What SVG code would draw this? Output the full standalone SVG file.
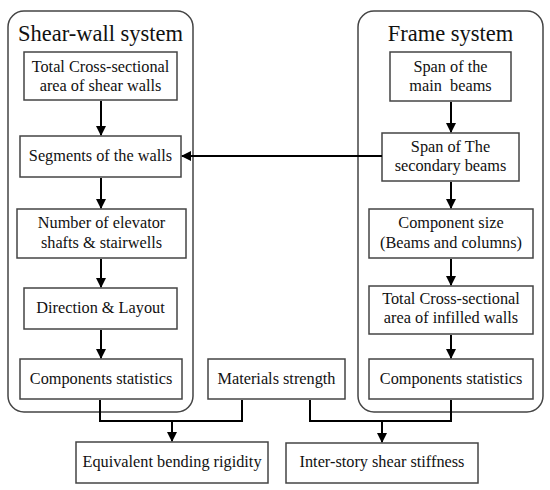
<svg xmlns="http://www.w3.org/2000/svg" width="550" height="490" viewBox="0 0 550 490">
<style>
.bg{fill:#fff}
.cont{fill:none;stroke:#444;stroke-width:1.5}
.box{fill:#fff;stroke:#444;stroke-width:1.5}
.t{font-family:'Liberation Serif','Times New Roman',serif;font-size:16.3px;fill:#111;text-anchor:middle}
.title{font-family:'Liberation Serif','Times New Roman',serif;font-size:22.5px;fill:#111;text-anchor:middle}
.c{fill:none;stroke:#000;stroke-width:2}
</style>
<defs>
<marker id="ah" markerWidth="10" markerHeight="10" refX="9" refY="5" orient="auto" markerUnits="userSpaceOnUse">
<path d="M0,0 L10,5 L0,10 Z" fill="#000"/>
</marker>
</defs>
<rect class="bg" x="0" y="0" width="550" height="490"/>
<g id="shear-wall-system">
<rect class="cont" x="8" y="11" width="185" height="401" rx="16"/>
<text class="title" x="100.5" y="41">Shear-wall system</text>
</g>
<g id="frame-system">
<rect class="cont" x="358" y="11" width="185" height="401" rx="16"/>
<text class="title" x="450.5" y="41">Frame system</text>
</g>
<g id="sw1"><rect class="box" x="24" y="52" width="153" height="48"/><text class="t" x="100.5" y="72">Total Cross-sectional</text><text class="t" x="100.5" y="91">area of shear walls</text></g>
<g id="sw2"><rect class="box" x="20" y="136" width="161" height="41"/><text class="t" x="100.5" y="161">Segments of the walls</text></g>
<g id="sw3"><rect class="box" x="17" y="209" width="169" height="49"/><text class="t" x="101.5" y="228">Number of elevator</text><text class="t" x="101.5" y="248">shafts &amp; stairwells</text></g>
<g id="sw4"><rect class="box" x="24" y="288" width="153" height="41"/><text class="t" x="100.5" y="313">Direction &amp; Layout</text></g>
<g id="sw5"><rect class="box" x="20" y="359" width="162" height="40"/><text class="t" x="101" y="384">Components statistics</text></g>
<g id="fr1"><rect class="box" x="390" y="52" width="121" height="49"/><text class="t" x="450.5" y="72">Span of the</text><text class="t" x="450.5" y="91" xml:space="preserve">main  beams</text></g>
<g id="fr2"><rect class="box" x="382" y="133" width="137" height="48"/><text class="t" x="450.5" y="152">Span of The</text><text class="t" x="450.5" y="171">secondary beams</text></g>
<g id="fr3"><rect class="box" x="369" y="209" width="164" height="49"/><text class="t" x="451" y="228">Component size</text><text class="t" x="451" y="248">(Beams and columns)</text></g>
<g id="fr4"><rect class="box" x="369" y="286" width="164" height="48"/><text class="t" x="451" y="304">Total Cross-sectional</text><text class="t" x="451" y="323">area of infilled walls</text></g>
<g id="fr5"><rect class="box" x="369" y="359" width="164" height="40"/><text class="t" x="451" y="384">Components statistics</text></g>
<g id="materials"><rect class="box" x="208" y="359" width="137" height="40"/><text class="t" x="276.5" y="384">Materials strength</text></g>
<g id="bending"><rect class="box" x="76" y="442" width="192" height="41"/><text class="t" x="172" y="467">Equivalent bending rigidity</text></g>
<g id="shear-stiffness"><rect class="box" x="286" y="443" width="192" height="40"/><text class="t" x="382" y="467">Inter-story shear stiffness</text></g>
<g id="connectors">
<line class="c" x1="101" y1="101" x2="101" y2="135" marker-end="url(#ah)"/>
<line class="c" x1="101" y1="178" x2="101" y2="208" marker-end="url(#ah)"/>
<line class="c" x1="101" y1="259" x2="101" y2="287" marker-end="url(#ah)"/>
<line class="c" x1="101" y1="330" x2="101" y2="358" marker-end="url(#ah)"/>
<line class="c" x1="451" y1="102" x2="451" y2="132" marker-end="url(#ah)"/>
<line class="c" x1="451" y1="182" x2="451" y2="208" marker-end="url(#ah)"/>
<line class="c" x1="451" y1="259" x2="451" y2="285" marker-end="url(#ah)"/>
<line class="c" x1="451" y1="335" x2="451" y2="358" marker-end="url(#ah)"/>
<line class="c" x1="382" y1="156" x2="182" y2="156" marker-end="url(#ah)"/>
<polyline class="c" points="100,400 100,421 242,421 242,400"/>
<line class="c" x1="172" y1="421" x2="172" y2="441" marker-end="url(#ah)"/>
<polyline class="c" points="451,400 451,421 310,421 310,400"/>
<line class="c" x1="382" y1="421" x2="382" y2="442" marker-end="url(#ah)"/>
</g>
</svg>
